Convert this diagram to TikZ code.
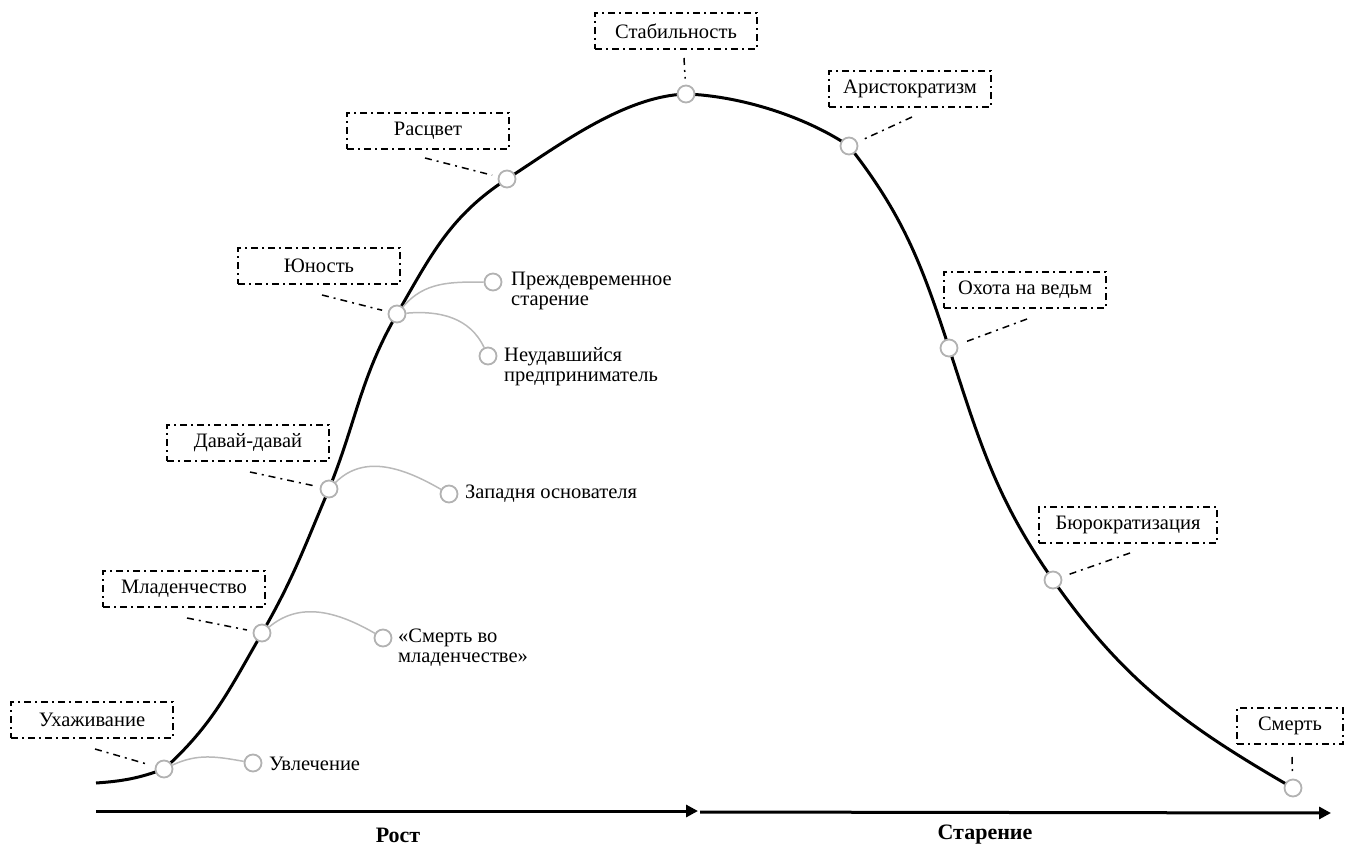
\documentclass[tikz,border=0pt]{standalone}
\usepackage{fontspec}
\setmainfont{Liberation Serif}
\usetikzlibrary{arrows.meta}
\begin{document}
\begin{tikzpicture}[x=1pt,y=1pt,
  stage/.style={draw, line width=1.7pt, dash pattern=on 7pt off 4pt on 2pt off 4pt,
    minimum width=162pt, minimum height=36pt, inner sep=0pt, font=\fontsize{20.5}{20}\selectfont},
  leader/.style={line width=1.5pt, dash pattern=on 7pt off 5pt on 2pt off 5pt, shorten >=6pt},
  dot/.style={circle, draw=gray!60, line width=1.8pt, fill=white, minimum size=17pt, inner sep=0pt},
  branch/.style={draw=gray!55, line width=1.5pt},
  note/.style={anchor=west, align=left, inner sep=0pt, font=\fontsize{20.5}{20}\selectfont},
  axisline/.style={line width=3pt, -{Triangle[length=12pt,width=12pt]}},
  phase/.style={font=\fontsize{22}{24}\selectfont\bfseries}
]
\useasboundingbox (0,0) rectangle (1351,-848);

% curve points
\coordinate (p0) at (96,-783);
\coordinate (p1) at (164,-769);
\coordinate (p2) at (262,-633);
\coordinate (p3) at (329,-489);
\coordinate (p4) at (397,-314);
\coordinate (p5) at (507,-179);
\coordinate (p6) at (686,-94);
\coordinate (p7) at (849,-146);
\coordinate (p8) at (949,-348);
\coordinate (p9) at (1053,-580);
\coordinate (p10) at (1293,-788);

\draw[line width=3pt, line join=round]
  (p0) to[out=4,in=200] (p1)
       to[out=42,in=240] (p2)
       to[out=60,in=247] (p3)
       to[out=68,in=240] (p4)
       to[out=60,in=213] (p5)
       to[out=33,in=182,looseness=0.8] (p6)
       to[out=-2,in=146,looseness=0.8] (p7)
       to[out=-52,in=108] (p8)
       to[out=-72,in=125] (p9)
       to[out=-55,in=150] (p10);

% circles on curve
\foreach \i in {1,...,10} { \node[dot] (c\i) at (p\i) {}; }

% branch end circles
\node[dot] (e1) at (253,-763) {};
\node[dot] (e2) at (383,-638) {};
\node[dot] (e3) at (449,-494) {};
\node[dot] (e4) at (493,-282) {};
\node[dot] (e5) at (488,-356) {};

\draw[branch] (c1) to[out=25,in=170] (e1);
\draw[branch] (c2) to[out=40,in=150] (e2);
\draw[branch] (c3) to[out=45,in=150] (e3);
\draw[branch] (c4) to[out=50,in=180] (e4);
\draw[branch] (c4) to[out=5,in=115] (e5);

% branch notes
\node[note] (n1) at (269,-764) {Увлечение};
\node[note] (n2) at (398,-648) {«Смерть во\\младенчестве»};
\node[note] (n3) at (465,-494) {Западня основателя};
\node[note] (n4) at (511,-291) {Преждевременное\\старение};
\node[note] (n5) at (504,-367) {Неудавшийся\\предприниматель};

% stage boxes
\node[stage] (b1) at (92,-720) {Ухаживание};
\node[stage] (b2) at (184,-589) {Младенчество};
\node[stage] (b3) at (248,-443) {Давай-давай};
\node[stage] (b4) at (319,-266) {Юность};
\node[stage] (b5) at (428,-131) {Расцвет};
\node[stage] (b6) at (676,-31) {Стабильность};
\node[stage] (b7) at (910,-89) {Аристократизм};
\node[stage] (b8) at (1025,-290) {Охота на ведьм};
\node[stage, minimum width=178pt] (b9) at (1128,-525) {Бюрократизация};
\node[stage, minimum width=106pt] (b10) at (1290,-726) {Смерть};

% leader starts
\coordinate (l1) at (95,-749);
\coordinate (l2) at (187,-618);
\coordinate (l3) at (250,-472);
\coordinate (l4) at (322,-295);
\coordinate (l5) at (425,-158);
\coordinate (l6) at (684,-58);
\coordinate (l7) at (912,-117);
\coordinate (l8) at (1027,-319);
\coordinate (l9) at (1130,-553);
\coordinate (l10) at (1292,-757);
\foreach \i in {1,...,10} { \draw[leader] (l\i) -- (c\i); }

% axis
\coordinate (a0) at (96,-811);
\coordinate (a1) at (698,-811);
\coordinate (a2) at (700,-812);
\coordinate (a3) at (1331,-813);
\draw[axisline] (a0) -- (a1);
\draw[axisline] (a2) -- (a3);

\node[phase] (grow) at (398,-835) {Рост};
\node[phase] (age) at (985,-835) {Старение};
\end{tikzpicture}
\end{document}
